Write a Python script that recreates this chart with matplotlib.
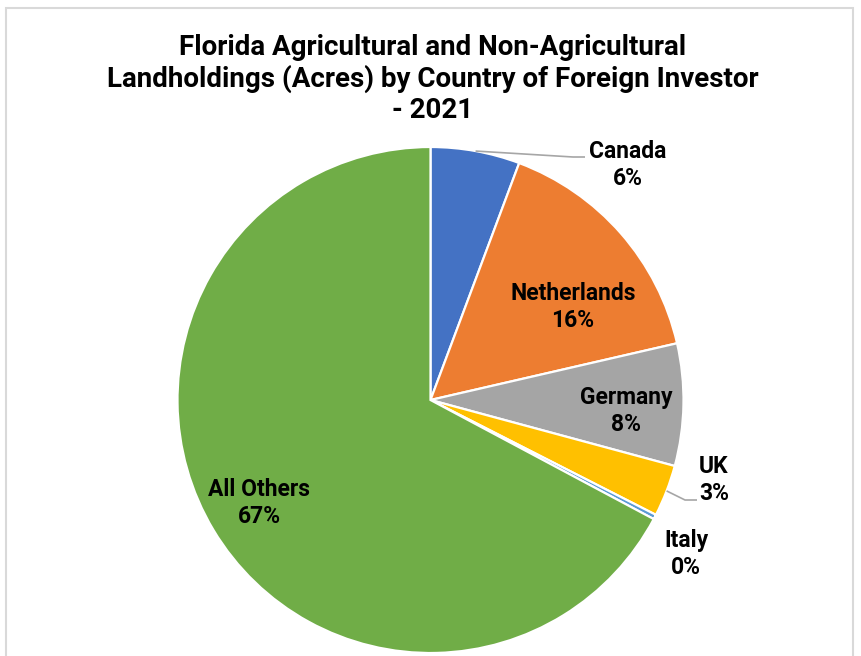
import matplotlib.pyplot as plt
import matplotlib.patches as mpatches
import numpy as np

# share of foreign-held acres by investor country (percent)
countries = ['Canada', 'Netherlands', 'Germany', 'UK', 'Italy', 'All Others']
shares = [5.7, 15.7, 7.8, 3.3, 0.3, 67.2]
colors = ['#4472C4', '#ED7D31', '#A5A5A5', '#FFC000', '#5B9BD5', '#70AD47']

title = ('Florida Agricultural and Non-Agricultural\n'
         'Landholdings (Acres) by Country of Foreign Investor\n- 2021')

W, H = 861, 656
plt.rcParams['font.family'] = ['Roboto', 'DejaVu Sans']

fig = plt.figure(figsize=(W / 100, H / 100), dpi=100)
ax = fig.add_axes([0, 0, 1, 1])

cx, cy, r = 430.5, H - 400, 253
wedges, _ = ax.pie(shares, colors=colors, startangle=90, counterclock=False,
                   radius=r, center=(cx, cy),
                   wedgeprops=dict(edgecolor='white', linewidth=1.6))
ax.set_xlim(0, W)
ax.set_ylim(0, H)
ax.set_aspect('equal')
ax.axis('off')

# outer chart frame (bottom edge runs off the page)
ax.add_patch(mpatches.Rectangle((6, -20), W - 14, H - 6 + 20 - 6 + 4, fill=False,
                                edgecolor='#D9D9D9', linewidth=1.5))

ax.text(433, H - 79, title, ha='center', va='center', fontsize=20,
        fontweight='bold', linespacing=1.2)

# label positions (pixels from top-left) and whether a leader line is drawn
label_pos = {
    'Canada': (628, 165),
    'Netherlands': (573, 307),
    'Germany': (626, 411),
    'UK': (714, 480),
    'Italy': (686, 554),
    'All Others': (259, 503),
}
leaders = {'Canada': (585, 157), 'UK': (697, 500)}

for w, name, val in zip(wedges, countries, shares):
    x, y = label_pos[name]
    ax.text(x, H - y, f'{name}\n{val:.0f}%', ha='center', va='center',
            fontsize=16.5, fontweight='bold', linespacing=1.2)
    if name in leaders:
        mid = np.deg2rad((w.theta1 + w.theta2) / 2)
        ex, ey = cx + r * np.cos(mid), cy + r * np.sin(mid)
        lx, ly = leaders[name]
        ax.plot([ex, lx - 12, lx], [ey, H - ly, H - ly], color='#A6A6A6',
                linewidth=1.2, solid_capstyle='butt')

fig.savefig('out.png', dpi=100)
